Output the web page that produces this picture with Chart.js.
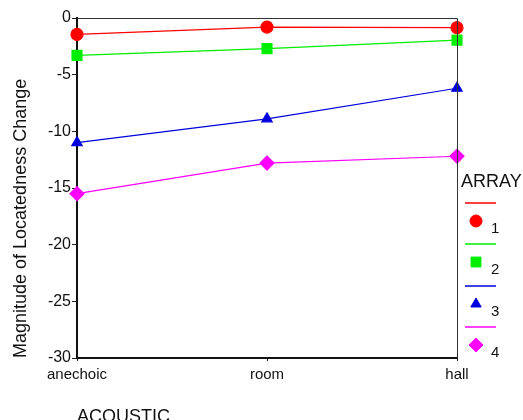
<!DOCTYPE html>
<html>
<head>
<meta charset="utf-8">
<script src="https://cdn.jsdelivr.net/npm/chart.js@4/dist/chart.umd.min.js"></script>
<style>
    html, body { margin: 0; padding: 0; background: #fff; }
    #wrap { width: 523px; height: 420px; position: relative; }
</style>
</head>
<body>
<div id="wrap"><canvas id="chart"></canvas></div>
<script>

// ==========================
// Data
// ==========================

const acoustic = ["anechoic", "room", "hall"];

const array1 = [-1.45, -0.8, -0.85];
const array2 = [-3.3, -2.7, -1.95];
const array3 = [-11.0, -8.9, -6.2];
const array4 = [-15.5, -12.8, -12.2];

const seriesNames = ["1", "2", "3", "4"];
const seriesColors = ["#ff0000", "#00ee00", "#0000dd", "#ff00ff"];
const yTicks = [0, -5, -10, -15, -20, -25, -30];

const FONT = "'Liberation Sans', Arial, sans-serif";

// ==========================
// Box + legend plugin
// ==========================

const boxAndLegend = {
    id: "boxAndLegend",
    afterDraw(chart) {
        const ctx = chart.ctx;
        const a = chart.chartArea;

        // top + right border
        ctx.save();
        ctx.strokeStyle = "#333";
        ctx.lineWidth = 1;
        ctx.beginPath();
        ctx.moveTo(a.left, a.top + 0.5);
        ctx.lineTo(a.right + 0.5, a.top + 0.5);
        ctx.lineTo(a.right + 0.5, a.bottom);
        ctx.stroke();

        // legend
        ctx.fillStyle = "#111";
        ctx.font = "18px " + FONT;
        ctx.textBaseline = "middle";
        ctx.textAlign = "left";
        ctx.fillText("ARRAY", 461, 182);

        chart.data.datasets.forEach((ds, i) => {
            const y0 = Math.round(203 + i * 41.3);
            const color = seriesColors[i];

            ctx.strokeStyle = color;
            ctx.lineWidth = 1.5;
            ctx.beginPath();
            ctx.moveTo(465, y0);
            ctx.lineTo(496, y0);
            ctx.stroke();

            ctx.fillStyle = color;
            ctx.strokeStyle = color;
            ctx.lineWidth = 1;
            Chart.helpers.drawPoint(ctx, {
                pointStyle: ds.pointStyle,
                radius: ds.pointRadius,
                rotation: 0,
                borderWidth: 1
            }, 476, y0 + 18);

            ctx.fillStyle = "#111";
            ctx.font = "15px " + FONT;
            ctx.fillText(seriesNames[i], 491, y0 + 26);
        });

        ctx.restore();
    }
};

// ==========================
// Chart
// ==========================

function series(i, data, style, radius) {
    return {
        label: seriesNames[i],
        data: data,
        borderColor: seriesColors[i],
        backgroundColor: seriesColors[i],
        pointBackgroundColor: seriesColors[i],
        pointBorderColor: seriesColors[i],
        pointStyle: style,
        pointRadius: radius,
        pointHoverRadius: radius,
        borderWidth: 1.2,
        tension: 0
    };
}

new Chart(document.getElementById("chart"), {
    type: "line",
    data: {
        labels: acoustic,
        datasets: [
            series(0, array1, "circle", 6),
            series(1, array2, "rect", 7),
            series(2, array3, "triangle", 6),
            series(3, array4, "rectRot", 7)
        ]
    },
    options: {
        responsive: true,
        maintainAspectRatio: false,
        animation: false,
        layout: {
            padding: { top: 18, right: 66, bottom: 0, left: 0 }
        },
        plugins: {
            legend: { display: false },
            tooltip: { enabled: false }
        },
        scales: {
            x: {
                type: "category",
                offset: false,
                grid: {
                    display: true,
                    drawOnChartArea: false,
                    drawTicks: true,
                    tickLength: 3,
                    color: "#222"
                },
                border: { display: true, color: "#111", width: 2 },
                ticks: {
                    color: "#111",
                    font: { family: FONT, size: 15 },
                    padding: 5,
                    maxRotation: 0,
                    autoSkip: false
                },
                title: {
                    display: true,
                    text: "ACOUSTIC",
                    align: "start",
                    color: "#111",
                    font: { family: FONT, size: 18 },
                    padding: { top: 0, bottom: -8 }
                },
                afterFit(scale) { scale.height = 62; }
            },
            y: {
                min: -30,
                max: 0,
                afterBuildTicks(scale) {
                    scale.ticks = yTicks.map(v => ({ value: v }));
                },
                grid: {
                    display: true,
                    drawOnChartArea: false,
                    drawTicks: true,
                    tickLength: 5,
                    color: "#222"
                },
                border: { display: true, color: "#111", width: 2 },
                ticks: {
                    color: "#111",
                    font: { family: FONT, size: 16 },
                    padding: 1
                },
                title: {
                    display: true,
                    text: "Magnitude of Locatedness Change",
                    align: "start",
                    color: "#111",
                    font: { family: FONT, size: 18 },
                    padding: { top: 10, bottom: 0 }
                },
                afterFit(scale) { scale.width = 77; }
            }
        }
    },
    plugins: [boxAndLegend]
});

</script>
</body>
</html>
